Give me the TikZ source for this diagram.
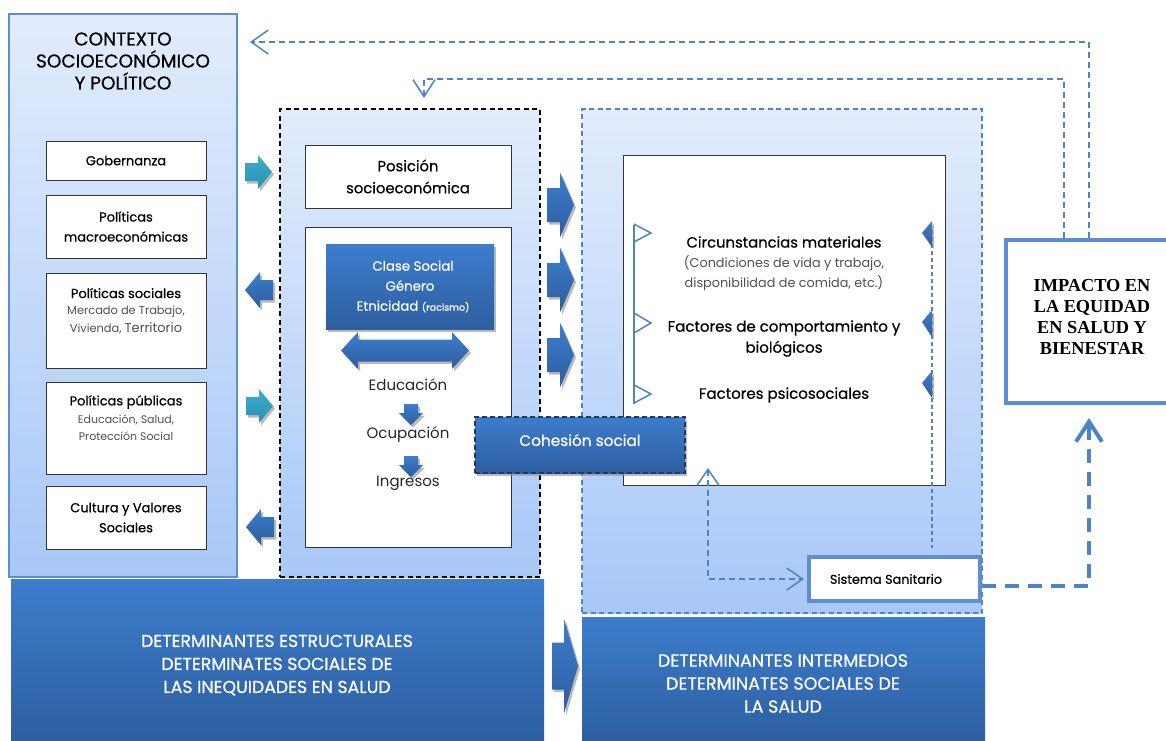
\documentclass[tikz,border=0pt]{standalone}
\usepackage{fontspec}
\setmainfont{Poppins}
\newfontfamily\medfont{Poppins}[FakeBold=0.6]
\newfontfamily\serifbold{Liberation Serif}
\usetikzlibrary{arrows.meta,shadows}
\definecolor{lt}{HTML}{E2ECFC}
\definecolor{lb}{HTML}{A8C8F8}
\definecolor{bt}{HTML}{3D7DCC}
\definecolor{bb}{HTML}{2D5E9F}
\definecolor{bord}{HTML}{5B8ED2}
\definecolor{dsh}{HTML}{4F83C8}
\definecolor{tealt}{HTML}{3CB0CE}
\definecolor{tealb}{HTML}{2B8FB0}
\definecolor{navy}{HTML}{1F3A66}
\definecolor{subg}{HTML}{505050}
% horizontal block arrow: tail, head base, tip, y centre, shaft half, head half, style
\newcommand\hArrow[7]{%
  \path[#7] ({#1},{#4-#5}) -- ({#2},{#4-#5}) -- ({#2},{#4-#6}) -- ({#3},{#4}) -- ({#2},{#4+#6}) -- ({#2},{#4+#5}) -- ({#1},{#4+#5}) -- cycle;}
% vertical block arrow: x centre, tail, head base, tip, shaft half, head half, style
\newcommand\vArrow[7]{%
  \path[#7] ({#1-#5},{#2}) -- ({#1-#5},{#3}) -- ({#1-#6},{#3}) -- ({#1},{#4}) -- ({#1+#6},{#3}) -- ({#1+#5},{#3}) -- ({#1+#5},{#2}) -- cycle;}
\begin{document}
\begin{tikzpicture}[x=1pt,y=-1pt,
  lightbox/.style={top color=lt,bottom color=lb},
  wbox/.style={draw=black!80,fill=white,line width=0.8pt,inner sep=0pt},
  bluebox/.style={top color=bt,bottom color=bb},
  tealfill/.style={top color=tealt,bottom color=tealb},
  shad/.style={drop shadow={shadow xshift=2pt,shadow yshift=-2.5pt,fill=black!45,opacity=0.6}},
  head/.style={font=\medfont\fontsize{13}{20}\selectfont,align=center,text=black},
  sub/.style={font=\fontsize{11.4}{18}\selectfont,align=center,text=subg},
  fb/.style={draw=dsh,line width=1.5pt,dash pattern=on 6pt off 4pt},
  whitetext/.style={text=white,align=center}
]
\useasboundingbox (0,0) rectangle (1166,740);
\fill[white] (0,0) rectangle (1166,740);

% ---------- left context box ----------
\node[lightbox,draw=bord,line width=1.5pt,minimum width=228,minimum height=563,inner sep=0pt] (ctx) at (123,295.5) {};
\node[font=\medfont\fontsize{18.5}{22}\selectfont,align=center] (ctxt) at (123,61) {CONTEXTO\\SOCIOECONÓMICO\\Y POLÍTICO};

\node[wbox,minimum width=160,minimum height=39,head] (gob) at (126,160.5) {Gobernanza};
\node[wbox,minimum width=160,minimum height=63,head] (mac) at (126,226.5) {Políticas\\macroeconómicas};
\node[wbox,minimum width=160,minimum height=95] (soc) at (126,320.5) {};
\node[head] (soct) at (126,293) {Políticas sociales};
\node[sub] (socs) at (126,320) {Mercado de Trabajo,\\Vivienda, {\fontsize{13}{18}\selectfont Territorio}};
\node[wbox,minimum width=160,minimum height=92] (pub) at (126,428) {};
\node[head] (pubt) at (126,402) {Políticas públicas};
\node[sub,font=\fontsize{11}{16.5}\selectfont] (pubs) at (126,427.5) {Educación, Salud,\\Protección Social};
\node[wbox,minimum width=160,minimum height=63,head] (cul) at (126,517.5) {Cultura y Valores\\Sociales};

% small arrows between context and structural box
\hArrow{245}{258}{272}{172}{9}{17}{tealfill,shad}
\hArrow{273}{260}{245}{290}{10}{18}{bluebox,shad}
\hArrow{246}{259}{273}{406}{9}{17}{tealfill,shad}
\hArrow{274}{261}{246}{527}{10}{18}{bluebox,shad}

% ---------- structural (dashed black) box ----------
\node[lightbox,draw=black,line width=1.4pt,dash pattern=on 5pt off 3.5pt,minimum width=260,minimum height=468,inner sep=0pt] (dbox) at (410,343) {};
\node[wbox,minimum width=206,minimum height=63,font=\medfont\fontsize{14.8}{22}\selectfont,align=center] (pos) at (408,176.5) {Posición\\socioeconómica};
\node[wbox,minimum width=206,minimum height=320] (big) at (408,387) {};
\node[bluebox,shad,minimum width=168,minimum height=85,inner sep=0pt,whitetext,font=\medfont\fontsize{13.3}{20}\selectfont] (clase) at (410,286.5) {\hspace*{6pt}Clase Social\\Género\\\hspace*{6pt}Etnicidad {\fontsize{9.5}{20}\selectfont(racismo)}};
\path[bluebox,shad] (341,350.5) -- (358,332) -- (358,339.5) -- (452,339.5) -- (452,332) -- (469,350.5) -- (452,369) -- (452,361.5) -- (358,361.5) -- (358,369) -- cycle;
\node[font=\fontsize{15}{20}\selectfont,text=black!85] (edu) at (408,385) {Educación};
\vArrow{411}{404}{413}{425}{7}{12}{bluebox,shad}
\node[font=\fontsize{15}{20}\selectfont,text=black!85] (ocu) at (408,435) {Ocupación};
\vArrow{411}{456}{465}{477}{7}{12}{bluebox,shad}
\node[font=\fontsize{15}{20}\selectfont,text=black!85] (ing) at (408,483) {Ingresos};

% arrows to intermediate
\hArrow{547}{560}{574}{205}{17}{32.5}{bluebox,shad}
\hArrow{547}{560}{574}{280}{17}{32.5}{bluebox,shad}
\hArrow{547}{560}{574}{355}{17}{32.5}{bluebox,shad}

% ---------- intermediate (dashed blue) box ----------
\node[lightbox,draw=dsh,line width=1.2pt,dash pattern=on 5pt off 3.5pt,minimum width=400,minimum height=504,inner sep=0pt] (ibox) at (782,361) {};
\node[wbox,minimum width=322,minimum height=330] (circ) at (784,320) {};
\node[font=\medfont\fontsize{14.8}{20}\selectfont] (cm) at (784,242) {Circunstancias materiales};
\node[sub,font=\fontsize{12.8}{20}\selectfont] (cms) at (784,273) {(Condiciones de vida y trabajo,\\disponibilidad de comida, etc.)};
\node[font=\medfont\fontsize{15}{21}\selectfont,align=center] (fc) at (784,338.5) {Factores de comportamiento y\\biológicos};
\node[font=\medfont\fontsize{15}{20}\selectfont] (fp) at (784,395) {Factores psicosociales};

% left open arrows on the vertical line
\draw[dsh,line width=1.8pt] (634,225) -- (634,404);
\draw[dsh,line width=1.5pt,line join=miter] (634,224) -- (651,233) -- (634,242);
\draw[dsh,line width=1.5pt,line join=miter] (634,313) -- (651,323) -- (634,333);
\draw[dsh,line width=1.5pt,line join=miter] (634,385) -- (651,394) -- (634,403);
% right dashed line with filled triangles
\draw[dsh,line width=1.2pt,dash pattern=on 4pt off 3pt] (932,230) -- (932,548);
\path[bluebox,shad] (932,221) -- (922,233) -- (932,247) -- cycle;
\path[bluebox,shad] (932,310) -- (922,322) -- (932,337) -- cycle;
\path[bluebox,shad] (932,371) -- (922,383) -- (932,398) -- cycle;

% Sistema sanitario
\node[draw=bord,line width=4pt,fill=white,minimum width=171,minimum height=44,inner sep=0pt] (san) at (894.5,579) {};
\node[font=\medfont\fontsize{12.8}{16}\selectfont] (sant) at (886,579) {Sistema Sanitario};
\coordinate (csA) at (708,468);
\draw[fb,{Straight Barb[length=16pt,width=22pt,line width=1.5pt]}-{Straight Barb[length=16pt,width=22pt,line width=1.5pt]}] (csA) |- ([xshift=-3pt]san.west);

% Cohesion social
\node[bluebox,shad,draw=navy,line width=1.5pt,dash pattern=on 5pt off 3pt,minimum width=210,minimum height=56,inner sep=0pt] (coh) at (580,445) {};
\node[whitetext,font=\medfont\fontsize{15.3}{20}\selectfont] (coht) at (580,440) {Cohesión social};

% ---------- impact box ----------
\node[draw=bord,line width=4pt,fill=white,minimum width=170,minimum height=163,inner sep=0pt] (imp) at (1091,321.5) {};
\node[font=\serifbold\bfseries\fontsize{18.3}{21.3}\selectfont,align=center] (impt) at (1092,317) {IMPACTO EN\\LA EQUIDAD\\EN SALUD Y\\BIENESTAR};
\coordinate (impin) at (1089,418);
\draw[draw=dsh,line width=4pt,dash pattern=on 14pt off 9pt,-{Straight Barb[length=20pt,width=26pt,line width=4pt]}] ([yshift=-7pt]san.east) -| (impin);

% feedback lines
\coordinate (fbA) at (250,42);
\coordinate (fbB) at (424,79);
\coordinate (fbC) at (424,98);
\draw[fb,-{Straight Barb[length=17pt,width=24pt,line width=1.5pt]}] ([xshift=-2pt]imp.north) |- (fbA);
\draw[fb,-{Straight Barb[length=17pt,width=22pt,line width=1.5pt]}] ([xshift=-27pt]imp.north) |- (fbB) -- (fbC);

% ---------- bottom blocks ----------
\node[bluebox,minimum width=533,minimum height=165,inner sep=0pt] (est) at (277.5,661.5) {};
\node[whitetext,font=\medfont\fontsize{17.3}{23}\selectfont] (estt) at (277,665) {DETERMINANTES ESTRUCTURALES\\DETERMINATES SOCIALES DE\\LAS INEQUIDADES EN SALUD};
\hArrow{552}{564}{578}{666}{23.5}{47.5}{bluebox,shad}
\node[bluebox,minimum width=403,minimum height=127,inner sep=0pt] (inter) at (783.5,680.5) {};
\node[whitetext,font=\medfont\fontsize{17.5}{23}\selectfont] (intert) at (783,683.5) {DETERMINANTES INTERMEDIOS\\DETERMINATES SOCIALES DE\\LA SALUD};
\end{tikzpicture}
\end{document}
